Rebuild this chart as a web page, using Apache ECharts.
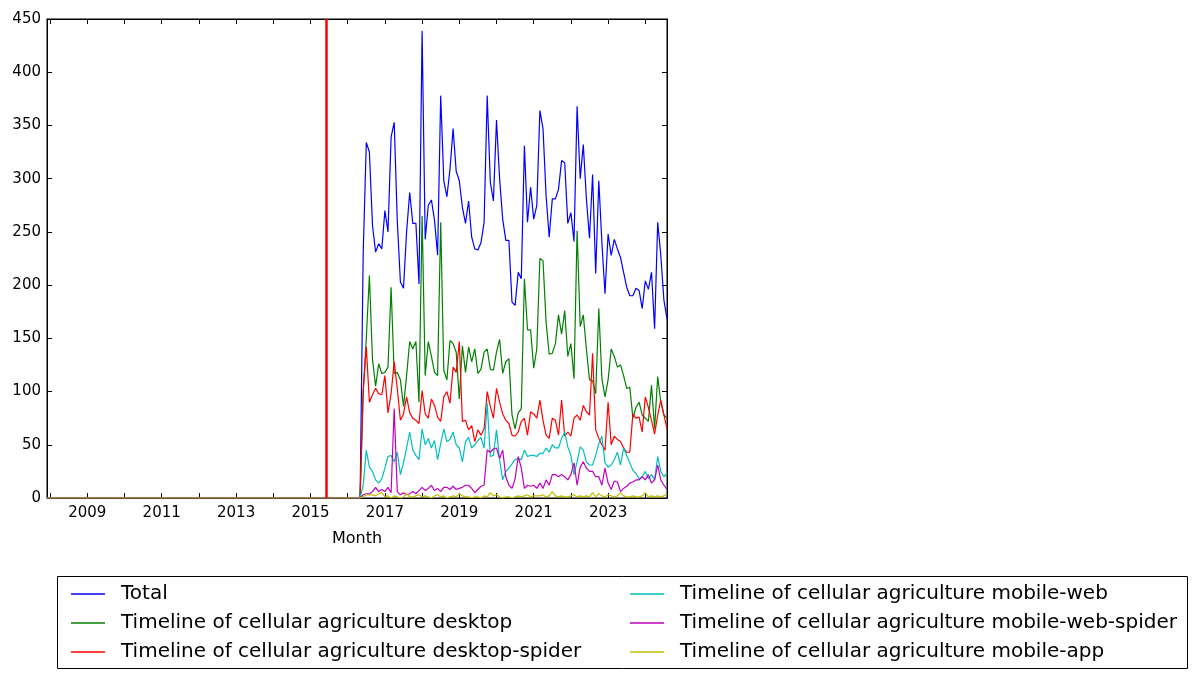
<!DOCTYPE html>
<html>
<head>
<meta charset="utf-8">
<script src="https://cdn.jsdelivr.net/npm/echarts@6/dist/echarts.min.js"></script>
<style>html,body{margin:0;padding:0;background:#fff}#chart{width:1198px;height:679px}</style>
</head>
<body>
<div id="chart"></div>
<script>
// ---- Data (monthly pageviews, first month 2007-12) ----
const firstMonth = '2007-12';
const markerMonth = '2015-06';
const preLaunchZeros = [
  0,0,0,0,0,0,0,0,0,0,0,0,0,0,0,0,0,0,0,0,
  0,0,0,0,0,0,0,0,0,0,0,0,0,0,0,0,0,0,0,0,
  0,0,0,0,0,0,0,0,0,0,0,0,0,0,0,0,0,0,0,0,
  0,0,0,0,0,0,0,0,0,0,0,0,0,0,0,0,0,0,0,0,
  0,0,0,0,0,0,0,0,0,0,0,0,0,0,0,0,0,0,0,0,
  0
];
const totalViews = preLaunchZeros.concat([
  0,230,334,325,256,231,239,234,270,250,339,353,260,203,197,250,287,258,258,201,
  439,243,275,280,261,228,378,298,283,309,347,307,298,273,258,279,245,234,233,240,
  259,378,297,279,355,300,262,242,242,184,181,212,206,331,259,292,262,275,364,347,
  284,245,281,281,290,317,315,258,268,241,368,300,332,281,244,304,211,298,240,192,
  248,228,243,234,226,212,198,190,190,197,195,178,204,196,212,159,259,228,186,168
]);
const desktop = preLaunchZeros.concat([
  0,100,150,209,130,105,126,117,118,123,198,117,118,111,86,115,147,140,147,90,
  265,115,147,133,118,115,259,120,111,148,145,137,93,143,118,142,128,140,117,121,
  137,140,121,120,137,149,117,128,131,78,65,80,84,206,158,158,122,140,225,223,
  165,135,136,145,172,154,176,133,145,112,251,161,172,140,111,110,98,178,112,95,
  111,140,133,123,125,115,103,104,75,85,90,78,75,72,106,65,114,90,78,75
]);
const desktopSpider = preLaunchZeros.concat([
  0,100,142,90,97,103,98,97,115,80,98,128,103,73,79,95,80,75,73,70,
  101,79,75,93,87,76,72,95,100,89,123,118,147,72,73,64,68,53,64,59,
  65,100,86,75,103,90,79,73,70,59,58,62,72,75,59,81,79,75,92,73,
  59,56,75,73,59,92,58,62,58,75,78,73,87,81,78,136,64,56,50,45,
  90,50,58,55,53,47,43,43,79,75,76,62,95,85,73,60,78,92,78,65
]);
const mobileWeb = preLaunchZeros.concat([
  0,12,45,29,25,17,14,18,28,39,40,34,43,22,33,47,62,45,40,36,
  65,50,56,47,54,36,51,65,53,55,62,50,47,34,53,57,47,50,54,57,
  47,89,39,40,64,36,17,25,28,32,36,37,36,45,39,40,40,39,42,42,
  47,43,50,47,47,56,62,48,40,22,34,48,45,34,31,31,40,51,58,33,
  29,31,36,43,31,47,40,33,26,23,18,20,25,18,22,17,39,25,20,23
]);
const mobileWebSpider = preLaunchZeros.concat([
  0,3,4,4,6,10,6,8,6,10,5,84,6,3,5,3,4,6,4,7,
  10,7,9,12,7,9,6,10,10,8,11,8,9,10,12,12,9,5,8,11,
  12,45,43,46,47,37,45,20,12,9,18,39,28,9,12,11,12,9,14,9,
  17,12,22,22,20,22,20,17,22,33,12,29,34,28,25,25,20,20,12,28,
  14,8,16,15,6,9,11,14,15,17,17,20,17,22,14,17,31,17,12,8
]);
const mobileApp = preLaunchZeros.concat([
  0,1,3,3,3,2,4,5,1,2,0,2,1,0,1,4,1,1,2,3,
  1,2,1,0,2,3,1,2,0,1,2,1,4,2,1,1,0,1,1,0,
  2,1,5,2,3,1,0,1,1,0,1,2,1,2,3,1,2,2,2,3,
  1,2,6,2,1,2,1,1,2,3,1,2,1,2,1,5,1,4,2,1,
  3,2,1,2,5,2,1,1,2,1,1,2,5,1,2,1,2,1,2,4
]);
const seriesNames = [
  'Total',
  'Timeline of cellular agriculture desktop',
  'Timeline of cellular agriculture desktop-spider',
  'Timeline of cellular agriculture mobile-web',
  'Timeline of cellular agriculture mobile-web-spider',
  'Timeline of cellular agriculture mobile-app'
];
const seriesColors = ['#0000ff', '#008000', '#ff0000', '#00bfbf', '#bf00bf', '#bfbf00'];
const xTickYears = [2008,2009,2010,2011,2012,2013,2014,2015,2016,2017,2018,2019,2020,2021,2022,2023,2024];
const xLabelYears = [2009,2011,2013,2015,2017,2019,2021,2023];
const yMax = 450, yStep = 50;

// ---- Build ----
const [fy, fm] = firstMonth.split('-').map(Number);
const months = totalViews.map((_, i) => {
  const t = fy * 12 + (fm - 1) + i;
  return Math.floor(t / 12) + '-' + String(t % 12 + 1).padStart(2, '0');
});
const xOf = s => { const [y, m] = s.split('-').map(Number); return y + (m - 1) / 12; };
const allData = [totalViews, desktop, desktopSpider, mobileWeb, mobileWebSpider, mobileApp];
const FONT = 'DejaVu Sans';

const series = allData.map((arr, k) => ({
  name: seriesNames[k],
  type: 'line',
  symbol: 'none',
  showSymbol: false,
  color: seriesColors[k],
  lineStyle: { width: 1.2, color: seriesColors[k] },
  data: arr.map((v, i) => [xOf(months[i]), v]),
  animation: false,
  silent: true
}));
series[0].markLine = {
  silent: true,
  symbol: ['none', 'none'],
  label: { show: false },
  lineStyle: { color: '#ff0000', width: 2.5, type: 'solid' },
  data: [{ xAxis: xOf(markerMonth) }],
  animation: false
};

const xMin = xOf(months[0]), xMax = xOf(months[months.length - 1]);
const baseX = {
  type: 'value', min: xMin, max: xMax,
  splitLine: { show: false },
  axisLine: { show: true, onZero: false, lineStyle: { color: '#000', width: 1 } },
  axisTick: { show: true, inside: true, length: 5, customValues: xTickYears, lineStyle: { color: '#000' } }
};
const baseY = {
  type: 'value', min: 0, max: yMax, interval: yStep,
  splitLine: { show: false },
  axisLine: { show: true, lineStyle: { color: '#000', width: 1 } },
  axisTick: { show: true, inside: true, length: 5, lineStyle: { color: '#000' } }
};
const legendText = { fontFamily: FONT, fontSize: 20, color: '#000', lineHeight: 22, padding: [0, 0, 0, 11] };

const chart = echarts.init(document.getElementById('chart'), null, { renderer: 'canvas' });
chart.setOption({
  animation: false,
  backgroundColor: '#fff',
  grid: { left: 47, right: 531, top: 19, bottom: 181, show: true, borderColor: '#000', borderWidth: 1, backgroundColor: 'transparent' },
  xAxis: [
    Object.assign({}, baseX, {
      position: 'bottom',
      name: 'Month', nameLocation: 'middle', nameGap: 33,
      nameTextStyle: { fontFamily: FONT, fontSize: 16, color: '#000' },
      axisLabel: { show: true, margin: 8, customValues: xLabelYears, fontFamily: FONT, fontSize: 15, color: '#000',
        formatter: v => String(Math.round(v)) }
    }),
    Object.assign({}, baseX, { position: 'top', axisLabel: { show: false } })
  ],
  yAxis: [
    Object.assign({}, baseY, { position: 'left', axisLabel: { show: true, margin: 6, fontFamily: FONT, fontSize: 15, color: '#000' } }),
    Object.assign({}, baseY, { position: 'right', axisLabel: { show: false } })
  ],
  legend: [
    {
      data: seriesNames.slice(0, 3), orient: 'vertical', left: 66, top: 578,
      itemWidth: 34, itemHeight: 1.3, itemGap: 7, icon: 'rect', selectedMode: false,
      textStyle: legendText
    },
    {
      data: seriesNames.slice(3), orient: 'vertical', left: 625, top: 578,
      itemWidth: 34, itemHeight: 1.3, itemGap: 7, icon: 'rect', selectedMode: false,
      textStyle: legendText
    }
  ],
  graphic: [{
    type: 'rect', silent: true,
    shape: { x: 57.5, y: 576.5, width: 1130, height: 92 },
    style: { fill: 'none', stroke: '#000', lineWidth: 1 }
  }],
  series: series
});
</script>
</body>
</html>
